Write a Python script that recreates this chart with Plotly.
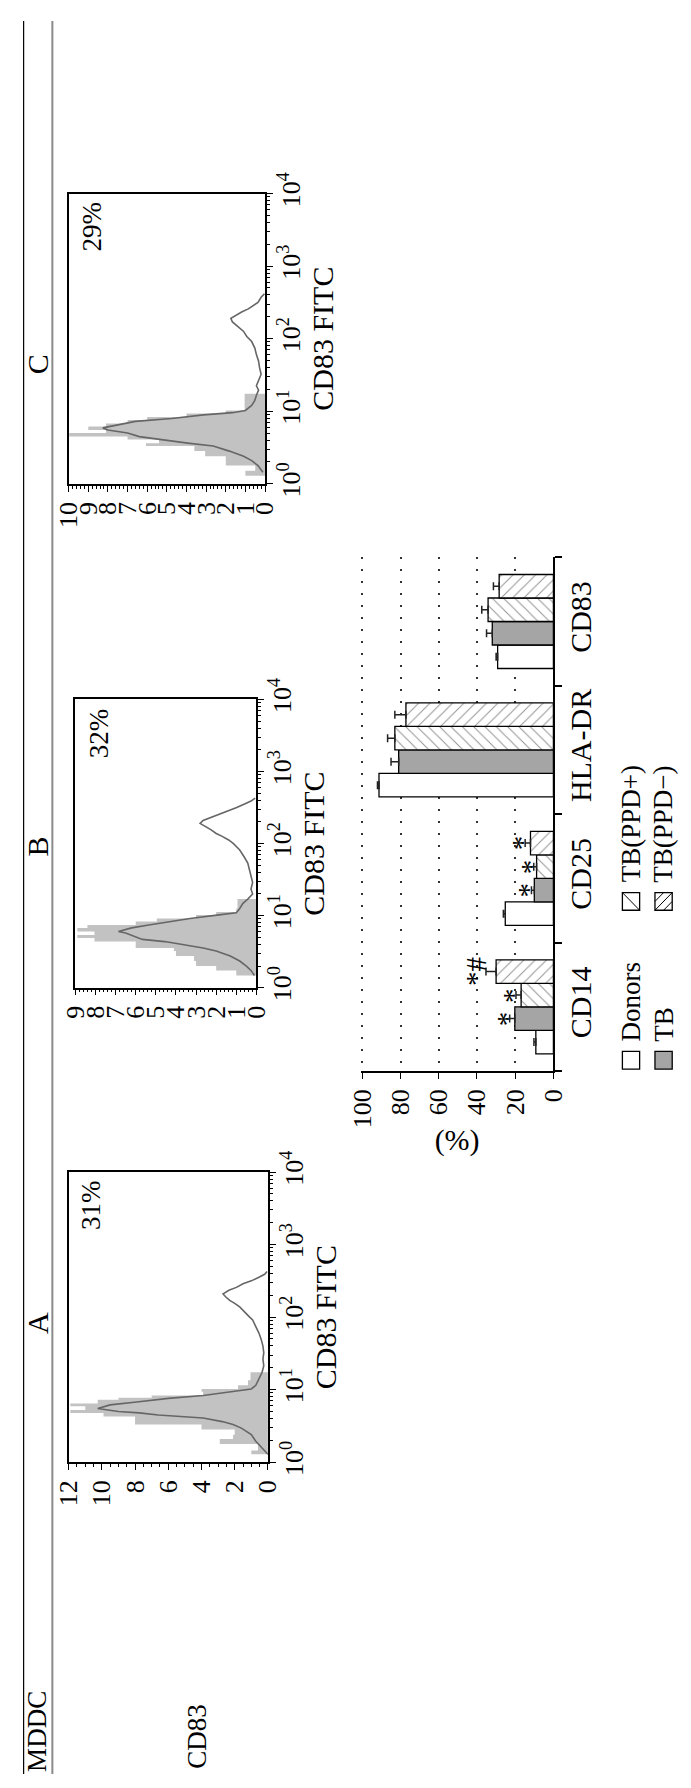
import plotly.graph_objects as go

W, H = 691, 1788
FONT = "Liberation Serif"

# ---------------- Histogram data (log10 intensity, count) ----------------
A_line_logI = [0.11,0.2,0.29,0.38,0.47,0.52,0.56,0.61,0.65,0.68,0.70,0.74,0.79,0.83,0.88,0.92,0.97,1.01,1.06,1.15,1.24,1.33,1.42,1.51,1.60,1.69,1.78,1.87,1.96,2.0,2.05,2.1,2.14,2.19,2.23,2.28,2.32,2.37,2.41,2.46,2.5,2.55,2.59,2.63]
A_line_count = [0.0,0.35,0.73,1.0,1.6,2.1,2.75,3.9,6.6,7.75,9.0,10.25,9.5,7.9,6.0,3.9,2.2,1.0,0.73,0.54,0.35,0.25,0.3,0.25,0.3,0.4,0.54,0.73,0.92,1.1,1.3,1.5,1.7,2.0,2.3,2.55,2.7,2.35,1.9,1.5,1.0,0.54,0.2,0.05]
A_fill_edges = [0.11,0.16,0.25,0.32,0.38,0.45,0.52,0.56,0.63,0.68,0.72,0.77,0.81,0.86,0.89,0.92,0.97,1.01,1.06,1.13,1.24]
A_fill_count = [1.0,0.6,2.9,2.1,2.0,4.0,8.0,8.0,9.9,11.9,11.0,11.9,10.25,9.0,7.0,3.9,4.0,1.8,1.2,1.05]

B_line_logI = [0.17,0.24,0.30,0.37,0.44,0.51,0.55,0.60,0.64,0.67,0.71,0.76,0.78,0.83,0.87,0.92,0.96,1.01,1.04,1.10,1.17,1.23,1.30,1.37,1.46,1.55,1.64,1.73,1.82,1.91,2.0,2.05,2.10,2.14,2.19,2.23,2.28,2.32,2.37,2.41,2.46,2.50,2.55,2.59,2.63]
B_line_count = [0.1,0.27,0.5,0.83,1.3,2.0,2.65,3.76,4.56,5.67,6.0,6.5,6.86,6.2,5.35,4.24,3.3,1.86,1.0,0.83,0.67,0.43,0.19,0.27,0.19,0.27,0.35,0.43,0.62,0.83,1.14,1.38,1.7,2.0,2.25,2.5,2.8,2.65,2.17,1.78,1.38,0.98,0.59,0.27,0.06]
B_fill_edges = [0.17,0.24,0.30,0.37,0.44,0.51,0.55,0.60,0.64,0.69,0.73,0.78,0.83,0.87,0.92,0.96,1.01,1.05,1.10,1.23]
B_fill_count = [1.0,2.0,3.0,3.1,4.0,4.1,6.0,6.0,8.05,8.9,8.05,8.9,8.4,6.0,4.95,3.0,2.0,1.0,0.94]

C_line_logI = [0.16,0.25,0.32,0.38,0.45,0.52,0.56,0.61,0.65,0.70,0.74,0.77,0.81,0.86,0.90,0.95,0.98,1.01,1.08,1.15,1.22,1.29,1.35,1.42,1.51,1.60,1.69,1.78,1.87,1.96,2.03,2.10,2.16,2.23,2.28,2.32,2.37,2.41,2.46,2.50,2.57,2.62]
C_line_count = [0.11,0.36,0.68,1.09,1.82,2.64,3.94,5.4,6.4,7.0,8.0,8.26,7.6,6.6,4.75,3.13,1.66,1.0,0.68,0.52,0.44,0.33,0.44,0.33,0.2,0.28,0.33,0.44,0.52,0.68,0.93,1.09,1.37,1.66,1.74,1.5,1.17,0.85,0.6,0.36,0.2,0.03]
C_fill_edges = [0.11,0.18,0.25,0.32,0.38,0.45,0.52,0.56,0.61,0.65,0.70,0.74,0.79,0.83,0.88,0.92,0.97,1.01,1.24]
C_fill_count = [1.0,0.5,2.0,2.0,3.05,3.6,6.06,5.4,7.0,9.97,8.1,9.0,8.1,7.0,6.0,4.0,2.0,1.04]

hist_percent = ["31%", "32%", "29%"]
hist_count_max = [12, 9, 10]
hist_count_dtick = [2, 1, 1]
hist_minor_dtick = [0.5, 0.2, 0.2]
decade_exp = [0, 1, 2, 3, 4]

# ---------------- Bar chart data ----------------
categories = ["CD14", "CD25", "HLA-DR", "CD83"]
series_names = ["Donors", "TB", "TB(PPD+)", "TB(PPD−)"]
donors_val = [9.2, 25.2, 91.3, 29.2]
donors_err = [1.0, 1.0, 0.8, 0.8]
tb_val = [20.2, 10.0, 81.0, 32.0]
tb_err = [2.7, 1.5, 4.0, 3.0]
ppdpos_val = [16.9, 8.8, 83.0, 34.2]
ppdpos_err = [2.7, 1.5, 3.8, 3.3]
ppdneg_val = [30.0, 12.0, 77.2, 28.4]
ppdneg_err = [5.3, 2.8, 5.8, 3.0]
sig_tb = ["*", "*", "", ""]
sig_ppdpos = ["*", "*", "", ""]
sig_ppdneg = ["*#", "*", "", ""]
value_ticks = [0, 20, 40, 60, 80, 100]

# font sizes
F_TICK = 26
F_TITLE = 30
F_CAT = 30
F_TXT = 27
F_SIG = 29

def px(x):
    return x / W

def py(y):
    return 1 - y / H

fig = go.Figure()

boxes = [(56, 264, 1174, 1470), (63, 252, 692, 986), (56, 261, 176, 472)]
letter_y = [1328, 842, 350]
letters = ["A", "B", "C"]
hists = [
    (A_line_logI, A_line_count, A_fill_edges, A_fill_count),
    (B_line_logI, B_line_count, B_fill_edges, B_fill_count),
    (C_line_logI, C_line_count, C_fill_edges, C_fill_count),
]

layout_axes = {}
annotations = []
for i, (box, hist) in enumerate(zip(boxes, hists)):
    n = i + 1
    xa, ya = f"x{n}", f"y{n}"
    line_l, line_c, fe, fc = hist
    fx, fy = [0], [10 ** fe[0]]
    for k, c in enumerate(fc):
        fx += [c, c]
        fy += [10 ** fe[k], 10 ** fe[k + 1]]
    fx.append(0)
    fy.append(10 ** fe[-1])
    fig.add_trace(go.Scatter(x=fx, y=fy, mode="lines", fill="toself",
                             fillcolor="#c2c2c2", line=dict(width=0, color="#c2c2c2"),
                             xaxis=xa, yaxis=ya, hoverinfo="skip"))
    fig.add_trace(go.Scatter(x=line_c, y=[10 ** v for v in line_l], mode="lines",
                             line=dict(color="#666666", width=1.6),
                             xaxis=xa, yaxis=ya))
    l, r, t, b = box
    minor_vals = [m * 10 ** d for d in range(4) for m in range(2, 10)]
    layout_axes[f"xaxis{n}"] = dict(
        domain=[px(l), px(r)], anchor=ya, range=[hist_count_max[i], 0],
        showline=True, linecolor="black", linewidth=1.5, mirror=True,
        ticks="outside", ticklen=6, tickwidth=1.3, tickcolor="black",
        tick0=0, dtick=hist_count_dtick[i], tickangle=-90,
        tickfont=dict(family=FONT, size=F_TICK, color="black"),
        minor=dict(ticks="outside", dtick=hist_minor_dtick[i], ticklen=3,
                   tickcolor="black", tickwidth=1),
        showgrid=False, zeroline=False)
    layout_axes[f"yaxis{n}"] = dict(
        domain=[py(b), py(t)], anchor=xa, type="log", range=[0, 4], side="right",
        showline=True, linecolor="black", linewidth=1.5, mirror=True,
        ticks="outside", ticklen=6, tickwidth=1.3, tickcolor="black",
        tickvals=[10 ** e for e in decade_exp],
        ticktext=[f"10<sup>{e}</sup>" for e in decade_exp], tickangle=-90,
        ticklabelstandoff=-4,
        tickfont=dict(family=FONT, size=F_TICK, color="black"),
        minor=dict(tickvals=minor_vals, ticks="outside", ticklen=3,
                   tickcolor="black", tickwidth=1),
        title=dict(text="CD83 FITC", font=dict(family=FONT, size=F_TITLE, color="black"),
                   standoff=6),
        showgrid=False, zeroline=False)
    annotations.append(dict(x=px(l + 24), y=py(t + 34), xref="paper", yref="paper",
                            text=hist_percent[i], textangle=-90, showarrow=False,
                            font=dict(family=FONT, size=F_TXT, color="black"),
                            xanchor="center", yanchor="middle"))
    annotations.append(dict(x=px(23), y=py(letter_y[i]), xref="paper", yref="paper",
                            text=letters[i], textangle=-90, showarrow=False,
                            font=dict(family=FONT, size=F_TITLE, color="black"),
                            xanchor="center", yanchor="middle"))

# ---------------- Bar chart ----------------
BW = 0.183
series = [
    (donors_val, donors_err, "white", None, None),
    (tb_val, tb_err, "#a5a5a5", None, sig_tb),
    (ppdpos_val, ppdpos_err, "white", "\\", sig_ppdpos),
    (ppdneg_val, ppdneg_err, "white", "/", sig_ppdneg),
]
for k, (vals, errs, color, pat, sig) in enumerate(series):
    ypos = [ci + (k - 1.5) * BW for ci in range(len(categories))]
    marker = dict(color=color, line=dict(color="black", width=1.3))
    if pat:
        marker["pattern"] = dict(shape=pat, size=8, solidity=0.12,
                                 fgcolor="#222222", bgcolor="white", fillmode="overlay")
    fig.add_trace(go.Bar(x=vals, y=ypos, orientation="h", width=BW, name=series_names[k],
                         marker=marker,
                         error_x=dict(type="data", array=errs, arrayminus=[0] * len(errs),
                                      symmetric=False, color="#222222", thickness=1.5, width=4),
                         xaxis="x4", yaxis="y4"))
    if sig:
        for ci, s in enumerate(sig):
            if s:
                pad = 11 if len(s) == 1 else 15
                annotations.append(dict(x=vals[ci] + errs[ci] + pad, y=ypos[ci], xref="x4", yref="y4",
                                        text=s, textangle=-90, showarrow=False,
                                        font=dict(family=FONT, size=F_SIG, color="black"),
                                        xanchor="left", yanchor="middle"))

layout_axes["xaxis4"] = dict(
    domain=[px(361), px(562)], anchor="y4", range=[100.8, 0],
    tickvals=value_ticks, tickangle=-90,
    showline=True, linecolor="black", linewidth=1.5,
    ticks="outside", ticklen=6, tickwidth=1.3, tickcolor="black",
    tickfont=dict(family=FONT, size=F_TICK, color="black"),
    showgrid=True, gridcolor="#333333", gridwidth=1.5, griddash="1.5px,10.5px",
    zeroline=False,
    title=dict(text="(%)", font=dict(family=FONT, size=F_TITLE, color="black"), standoff=2))
layout_axes["yaxis4"] = dict(
    domain=[py(1071), py(547)], anchor="x4", range=[-0.5, 3.5], side="right",
    tickvals=list(range(len(categories))), ticktext=categories, tickangle=-90,
    ticks="", showline=True, linecolor="black", linewidth=1.5,
    tickfont=dict(family=FONT, size=F_CAT, color="black"),
    minor=dict(tickvals=[c - 0.5 for c in range(len(categories) + 1)], ticks="outside",
               ticklen=7, tickcolor="black", tickwidth=1.5),
    showgrid=False, zeroline=False)

# ---------------- Legend (drawn manually, rotated) ----------------
shapes = []
def rect(x0, y0, x1, y1, fill):
    shapes.append(dict(type="rect", xref="paper", yref="paper",
                       x0=px(x0), x1=px(x1), y0=py(y1), y1=py(y0),
                       fillcolor=fill, line=dict(color="black", width=1.3)))

def seg(x0, y0, x1, y1, color="black", width=1):
    shapes.append(dict(type="line", xref="paper", yref="paper",
                       x0=px(x0), x1=px(x1), y0=py(y0), y1=py(y1),
                       line=dict(color=color, width=width)))

leg_cols = [643, 677]
leg_rows = [1060, 898]
S = 9
rect(leg_cols[0] - S, leg_rows[0] - S, leg_cols[0] + S, leg_rows[0] + S, "white")
rect(leg_cols[1] - S, leg_rows[0] - S, leg_cols[1] + S, leg_rows[0] + S, "#a5a5a5")
rect(leg_cols[0] - S, leg_rows[1] - S, leg_cols[0] + S, leg_rows[1] + S, "white")
seg(leg_cols[0] - S, leg_rows[1] - S, leg_cols[0] + S, leg_rows[1] + S)
rect(leg_cols[1] - S, leg_rows[1] - S, leg_cols[1] + S, leg_rows[1] + S, "white")
cx, cy = leg_cols[1], leg_rows[1]
seg(cx - S, cy + S, cx + S, cy - S)
seg(cx - S, cy, cx, cy - S)
seg(cx, cy + S, cx + S, cy)

leg_pos = [(leg_cols[0], leg_rows[0]), (leg_cols[1], leg_rows[0]),
           (leg_cols[0], leg_rows[1]), (leg_cols[1], leg_rows[1])]
for name, (lx, ly) in zip(series_names, leg_pos):
    annotations.append(dict(x=px(lx), y=py(ly - 17), xref="paper", yref="paper",
                            text=name, textangle=-90, showarrow=False,
                            font=dict(family=FONT, size=F_TXT, color="black"),
                            xanchor="center", yanchor="bottom"))

# ---------------- frame lines and side labels ----------------
seg(9, 0, 9, H, "black", 1.2)
seg(39, 0, 39, H, "#8a8a8a", 2)
annotations.append(dict(x=px(23), y=py(1745), xref="paper", yref="paper", text="MDDC",
                        textangle=-90, showarrow=False,
                        font=dict(family=FONT, size=27, color="black"),
                        xanchor="center", yanchor="middle"))
annotations.append(dict(x=px(190), y=py(1750), xref="paper", yref="paper", text="CD83",
                        textangle=-90, showarrow=False,
                        font=dict(family=FONT, size=27, color="black"),
                        xanchor="center", yanchor="middle"))

fig.update_layout(
    width=W, height=H, margin=dict(l=0, r=0, t=0, b=0),
    paper_bgcolor="white", plot_bgcolor="white",
    showlegend=False, barmode="overlay",
    font=dict(family=FONT, color="black"),
    shapes=shapes, annotations=annotations,
    **layout_axes)

fig.write_html("out.html", config={"displayModeBar": False},
               post_script="document.body.style.margin='0';document.body.style.overflow='hidden';")
